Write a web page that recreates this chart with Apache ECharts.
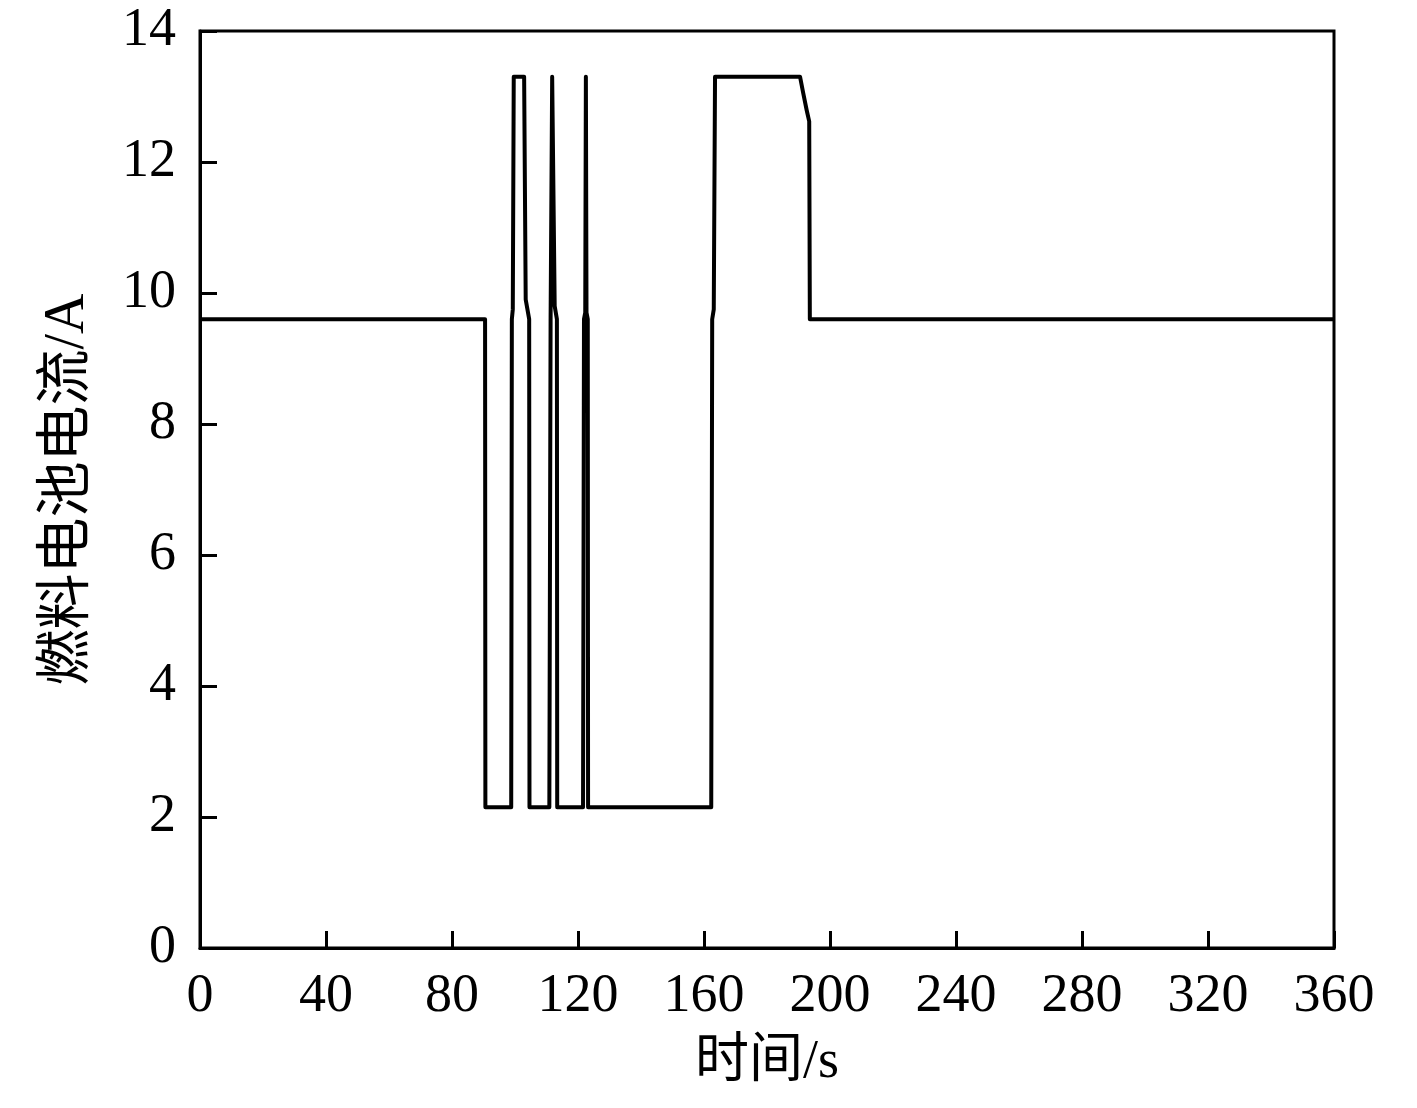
<!DOCTYPE html>
<html>
<head>
<meta charset="utf-8">
<script src="https://cdn.jsdelivr.net/npm/echarts@6/dist/echarts.min.js"></script>
<style>
html,body{margin:0;padding:0;background:#fff;}
#chart{width:1417px;height:1108px;}
</style>
</head>
<body>
<div id="chart"></div>
<script>
// time (s)
var times = [0, 90.5, 90.6, 98.8, 99.0, 99.3, 99.6, 102.9, 103.4, 104.5, 104.6,
  110.9, 111.3, 111.8, 112.2, 112.6, 113.3, 113.4,
  121.6, 121.9, 122.3, 122.5, 122.7, 123.1, 123.2,
  162.3, 162.6, 163.1, 163.5, 190.5, 191.5, 192.6, 193.4, 193.6, 360];
// fuel cell current (A)
var currents = [9.6, 9.6, 2.15, 2.15, 9.6, 9.75, 13.3, 13.3, 9.9, 9.6, 2.15,
  2.15, 9.6, 13.3, 13.3, 9.8, 9.6, 2.15,
  2.15, 9.6, 9.7, 13.3, 9.7, 9.6, 2.15,
  2.15, 9.6, 9.75, 13.3, 13.3, 13.05, 12.79, 12.62, 9.6, 9.6];
var xTicks = [0, 40, 80, 120, 160, 200, 240, 280, 320, 360];
var yTicks = [0, 2, 4, 6, 8, 10, 12, 14];
var xName = '时间/s';
var yName = '燃料电池电流/A';

var seriesData = times.map(function (t, i) { return [t, currents[i]]; });
var FONT = '"Liberation Serif", "Noto Sans CJK SC", serif';

var chart = echarts.init(document.getElementById('chart'));
chart.setOption({
  animation: false,
  backgroundColor: '#fff',
  grid: {
    left: 200, right: 83, top: 31, bottom: 160,
    show: true, borderColor: '#000', borderWidth: 3, backgroundColor: 'transparent'
  },
  xAxis: {
    type: 'value',
    min: xTicks[0], max: xTicks[xTicks.length - 1], interval: 40,
    name: xName, nameLocation: 'middle', nameGap: 88,
    nameTextStyle: { color: '#000', fontSize: 54, fontFamily: FONT },
    axisLine: { show: true, lineStyle: { color: '#000', width: 3 } },
    axisTick: { show: true, inside: true, length: 17, lineStyle: { color: '#000', width: 3 } },
    axisLabel: { color: '#000', fontSize: 54, fontFamily: FONT, margin: 22 },
    splitLine: { show: false }
  },
  yAxis: {
    type: 'value',
    min: yTicks[0], max: yTicks[yTicks.length - 1], interval: 2,
    name: yName, nameLocation: 'middle', nameGap: 104, nameRotate: 90,
    nameTextStyle: { color: '#000', fontSize: 56, fontFamily: FONT },
    axisLine: { show: true, lineStyle: { color: '#000', width: 3 } },
    axisTick: { show: true, inside: true, length: 17, lineStyle: { color: '#000', width: 3 } },
    axisLabel: { color: '#000', fontSize: 54, fontFamily: FONT, margin: 24 },
    splitLine: { show: false }
  },
  series: [{
    type: 'line',
    data: seriesData,
    showSymbol: false,
    symbol: 'none',
    lineStyle: { color: '#000', width: 4, join: 'round' },
    itemStyle: { color: '#000' }
  }]
});
</script>
</body>
</html>
